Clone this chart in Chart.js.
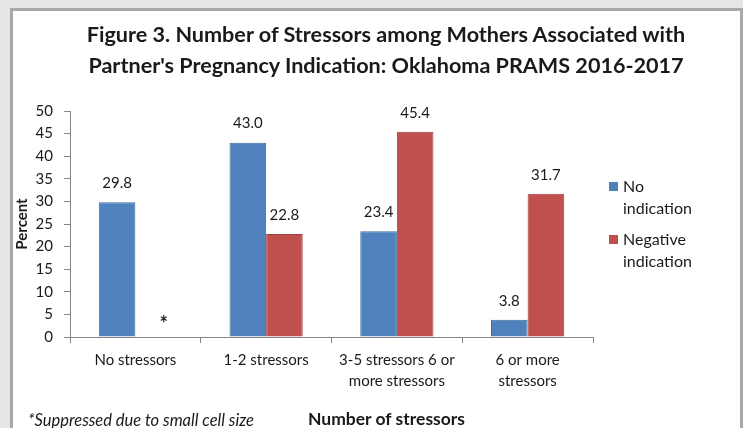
<!DOCTYPE html>
<html>
<head>
<meta charset="utf-8">
<script src="https://cdn.jsdelivr.net/npm/chart.js@4"></script>
<style>
  html, body { margin: 0; padding: 0; }
  body { width: 743px; height: 428px; background: #e6e6e6; position: relative; overflow: hidden; font-family: 'Lato', sans-serif; color: #1a1a1a; }
  .panel { position: absolute; left: 10px; top: 8px; width: 727px; height: 440px; background: #fff; border: 3px solid #a8a8a8; }
  #chart { position: absolute; left: 0; top: 0; }
  .title { position: absolute; left: 0; width: 772px; top: 19px; text-align: center; font-weight: 700; font-size: 21.6px; line-height: 31px; }
  .xtitle { position: absolute; left: 308px; top: 408px; font-weight: 700; font-size: 17.5px; line-height: 22px; }
  .note { position: absolute; left: 28px; top: 409px; font-style: italic; font-size: 16.5px; line-height: 22px; }
  .legend { position: absolute; left: 609px; top: 175px; font-size: 16px; line-height: 22px; }
  .legend .item { position: relative; padding-left: 14px; margin-bottom: 9px; }
  .legend .sw { position: absolute; left: 0; top: 7px; width: 9px; height: 9px; }
</style>
</head>
<body>
<div class="panel"></div>
<canvas id="chart" width="743" height="428"></canvas>
<div class="title">Figure 3. Number of Stressors among Mothers Associated with<br>Partner's Pregnancy Indication: Oklahoma PRAMS 2016-2017</div>
<div class="legend" id="legend"></div>
<div class="note">*Suppressed due to small cell size</div>
<div class="xtitle">Number of stressors</div>
<script>
/* ── Data ── */
const categories = ['No stressors', '1-2 stressors', ['3-5 stressors 6 or', 'more stressors'], ['6 or more', 'stressors']];
const seriesNames = ['No indication', 'Negative indication'];
const noIndication = [29.8, 43.0, 23.4, 3.8];
const negativeIndication = [null, 22.8, 45.4, 31.7]; // null = suppressed
const yTicks = [0, 5, 10, 15, 20, 25, 30, 35, 40, 45, 50];

const COLORS = ['#4f81bd', '#c0504d'];
const EDGES  = ['#3e6c9f', '#a0403d'];
const FONT = "'Lato', sans-serif";
const INK = '#1a1a1a';
const AXIS = '#868686';

/* ── Value labels above bars, '*' for suppressed ── */
const valueLabels = {
  id: 'valueLabels',
  afterDatasetsDraw(chart) {
    const { ctx, scales } = chart;
    const zeroY = scales.y.getPixelForValue(0);
    ctx.save();
    ctx.fillStyle = INK;
    ctx.textAlign = 'center';
    ctx.textBaseline = 'middle';
    chart.data.datasets.forEach((ds, i) => {
      chart.getDatasetMeta(i).data.forEach((bar, j) => {
        const v = ds.data[j];
        if (v === null) {
          ctx.font = 'bold 20px ' + FONT;
          ctx.fillText('*', bar.x + 10, zeroY - 12);
        } else {
          ctx.font = '15px ' + FONT;
          ctx.fillText(v.toFixed(1), bar.x, bar.y - 19);
        }
      });
    });
    ctx.restore();
  }
};

new Chart(document.getElementById('chart'), {
  type: 'bar',
  data: {
    labels: categories,
    datasets: [
      { label: seriesNames[0], data: noIndication, backgroundColor: COLORS[0], borderColor: EDGES[0], borderWidth: 1 },
      { label: seriesNames[1], data: negativeIndication, backgroundColor: COLORS[1], borderColor: EDGES[1], borderWidth: 1 }
    ]
  },
  options: {
    responsive: false,
    animation: false,
    layout: { padding: { left: 0, right: 150, top: 111, bottom: 0 } },
    datasets: { bar: { categoryPercentage: 0.56, barPercentage: 1 } },
    scales: {
      x: {
        afterFit: s => { s.height = 91; },
        border: { color: AXIS, width: 1 },
        grid: { offset: true, drawOnChartArea: false, tickLength: 6, color: AXIS },
        ticks: { color: INK, padding: 6, maxRotation: 0, font: { family: FONT, size: 15, lineHeight: 1.45 } }
      },
      y: {
        min: 0, max: 50,
        afterFit: s => { s.width = 70; },
        afterBuildTicks: s => { s.ticks = yTicks.map(v => ({ value: v })); },
        border: { color: AXIS, width: 1 },
        grid: { drawOnChartArea: false, tickLength: 6, color: AXIS },
        ticks: { color: INK, padding: 11, font: { family: FONT, size: 15 } },
        title: { display: true, text: 'Percent', color: INK, padding: { top: 13, bottom: 0 }, font: { family: FONT, size: 15, weight: 'bold' } }
      }
    },
    plugins: {
      legend: { display: false },
      tooltip: { enabled: false }
    }
  },
  plugins: [valueLabels]
});

/* ── HTML legend ── */
document.getElementById('legend').innerHTML = seriesNames.map((name, i) => {
  const words = name.split(' ');
  return `<div class="item"><span class="sw" style="background:${COLORS[i]}"></span>${words[0]}<br>${words.slice(1).join(' ')}</div>`;
}).join('');
</script>
</body>
</html>
